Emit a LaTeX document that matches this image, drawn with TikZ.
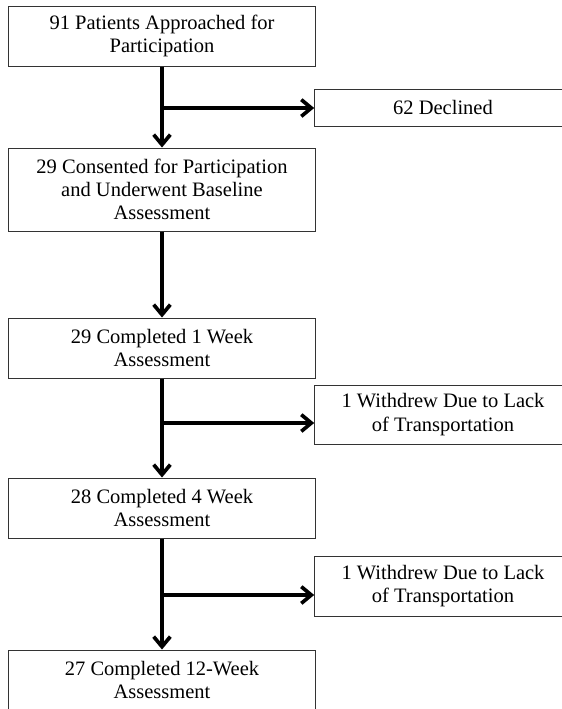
\documentclass[tikz,border=0pt]{standalone}
\usepackage{fontspec}
\setmainfont{Liberation Serif}
\usetikzlibrary{arrows.meta}

\begin{document}
\begin{tikzpicture}[x=0.6pt, y=-0.6pt,
  box/.style={draw=black!80, line width=0.6pt, inner sep=0pt, align=center,
              font=\fontsize{12.3}{14}\selectfont},
  mainbox/.style={box, minimum width=184.8pt, minimum height=36pt},
  sidebox/.style={box, minimum width=154pt, minimum height=36pt},
  flow/.style={line width=2.4pt, -{Straight Barb[length=6pt,width=10pt,line width=2.2pt]}}]
 \useasboundingbox (0,0) rectangle (561,709);
 % main column
 \node (approached) [mainbox] at (162,36) {91 Patients Approached for\\Participation};
 \node (consented) [mainbox, minimum height=49.8pt] at (162,189.5) {29 Consented for Participation\\and Underwent Baseline\\Assessment};
 \node (week1)  [mainbox] at (162,348) {29 Completed 1 Week\\Assessment};
 \node (week4)  [mainbox] at (162,508) {28 Completed 4 Week\\Assessment};
 \node (week12) [mainbox] at (162,680) {27 Completed 12-Week\\Assessment};
 % side boxes
 \node (declined)  [sidebox, minimum height=22.2pt] at (443,107.5) {62 Declined};
 \node (withdrew1) [sidebox, minimum height=35.4pt] at (443,414.5) {1 Withdrew Due to Lack\\of Transportation};
 \node (withdrew2) [sidebox] at (443,586) {1 Withdrew Due to Lack\\of Transportation};
 % branch points
 \coordinate (split1) at (162,108);
 \coordinate (split2) at (162,423);
 \coordinate (split3) at (162,595);
 \draw [flow] (approached) -- (consented);
 \draw [flow] (consented) -- (week1);
 \draw [flow] (week1) -- (week4);
 \draw [flow] (week4) -- (week12);
 \draw [flow] (split1) -- (split1 -| declined.west);
 \draw [flow] (split2) -- (split2 -| withdrew1.west);
 \draw [flow] (split3) -- (split3 -| withdrew2.west);
\end{tikzpicture}
\end{document}
